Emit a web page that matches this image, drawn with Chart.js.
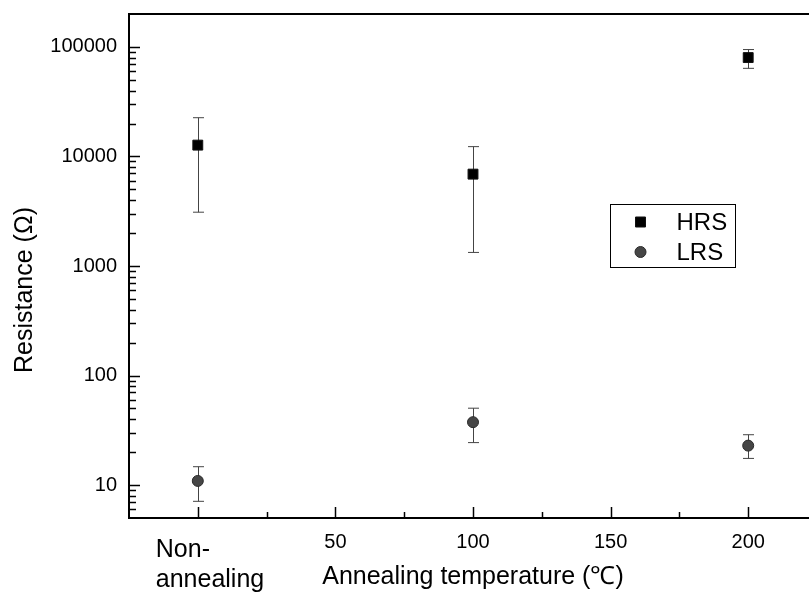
<!DOCTYPE html>
<html>
<head>
<meta charset="utf-8">
<script src="https://cdn.jsdelivr.net/npm/chart.js@4.4.1/dist/chart.umd.min.js"></script>
<style>
  html, body { margin: 0; padding: 0; background: #fff; overflow: hidden; }
  #wrap { width: 830px; height: 594px; }
</style>
</head>
<body>
<div id="wrap"><canvas id="chart"></canvas></div>
<script>
// annealing temperature, 0 = non-annealed sample
const temps = [0, 100, 200];

// high resistance state (ohm) with error range
const hrsValues = [12700, 6900, 80000];
const hrsUpper = [22600, 12300, 94700];
const hrsLower = [3100, 1330, 63800];

// low resistance state (ohm) with error range
const lrsValues = [10.9, 37.5, 22.9];
const lrsUpper = [14.7, 50.3, 28.8];
const lrsLower = [7.1, 24.4, 17.5];

const xTickLabels = { 50: '50', 100: '100', 150: '150', 200: '200' };
const zeroLabel = ['Non-', 'annealing'];
const yTickLabels = [10, 100, 1000, 10000, 100000];
const yTitle = 'Resistance (Ω)';

const FONT = "'Liberation Sans', Arial, sans-serif";

// 1..9 per decade between the axis limits
const yTicks = [];
for (let e = 0; e <= 5; e++) {
  for (let k = 1; k <= 9; k++) {
    const v = k * Math.pow(10, e);
    if (v >= 5 && v <= 200000) yTicks.push({ value: v, major: k === 1 });
  }
}

const errors = [
  { upper: hrsUpper, lower: hrsLower },
  { upper: lrsUpper, lower: lrsLower }
];

// error bars go under the markers
const errorBars = {
  id: 'errorBars',
  beforeDatasetsDraw(chart) {
    const ctx = chart.ctx;
    const xs = chart.scales.x, ys = chart.scales.y;
    ctx.save();
    ctx.strokeStyle = '#444';
    ctx.lineWidth = 1;
    errors.forEach((err) => {
      temps.forEach((t, i) => {
        const px = Math.round(xs.getPixelForValue(t)) + 0.5;
        const top = ys.getPixelForValue(err.upper[i]);
        const bot = ys.getPixelForValue(err.lower[i]);
        ctx.beginPath();
        ctx.moveTo(px, top);
        ctx.lineTo(px, bot);
        ctx.moveTo(px - 5.5, top);
        ctx.lineTo(px + 5.5, top);
        ctx.moveTo(px - 5.5, bot);
        ctx.lineTo(px + 5.5, bot);
        ctx.stroke();
      });
    });
    ctx.restore();
  }
};

// frame, inward tick marks, y title, the two-line zero label and the legend box
const frame = {
  id: 'frame',
  afterDraw(chart) {
    const ctx = chart.ctx;
    const a = chart.chartArea;
    const xs = chart.scales.x, ys = chart.scales.y;
    ctx.save();
    ctx.strokeStyle = '#000';
    ctx.lineWidth = 2;
    ctx.beginPath();
    ctx.moveTo(a.left, a.top);
    ctx.lineTo(a.right, a.top);
    ctx.lineTo(a.right, a.bottom);
    ctx.lineTo(a.left, a.bottom);
    ctx.closePath();
    ctx.stroke();

    ctx.lineWidth = 1.5;
    yTicks.forEach((t) => {
      if (t.value <= ys.min || t.value >= ys.max) return;
      const py = Math.round(ys.getPixelForValue(t.value)) + 0.5;
      const len = t.major ? 11 : 7;
      ctx.beginPath();
      ctx.moveTo(a.left, py);
      ctx.lineTo(a.left + len, py);
      ctx.stroke();
    });
    xs.ticks.forEach((t) => {
      if (t.value <= xs.min || t.value >= xs.max) return;
      const px = Math.round(xs.getPixelForValue(t.value)) + 0.5;
      const len = t.value % 50 === 0 ? 11 : 6;
      ctx.beginPath();
      ctx.moveTo(px, a.bottom);
      ctx.lineTo(px, a.bottom - len);
      ctx.stroke();
    });

    ctx.fillStyle = '#000';

    // y axis title
    ctx.save();
    ctx.translate(32, 373);
    ctx.rotate(-Math.PI / 2);
    ctx.font = '25px ' + FONT;
    ctx.textAlign = 'left';
    ctx.textBaseline = 'alphabetic';
    ctx.fillText(yTitle, 0, 0);
    ctx.restore();

    // "Non-annealing" under the x = 0 tick
    ctx.font = '25px ' + FONT;
    ctx.textAlign = 'left';
    ctx.textBaseline = 'alphabetic';
    const zx = xs.getPixelForValue(0) - 42;
    ctx.fillText(zeroLabel[0], zx, 557);
    ctx.fillText(zeroLabel[1], zx, 587);

    // legend
    const lx = 610.5, ly = 204.5, lw = 125, lh = 63;
    ctx.lineWidth = 1;
    ctx.strokeStyle = '#000';
    ctx.strokeRect(lx, ly, lw, lh);
    ctx.font = '24px ' + FONT;
    ctx.textBaseline = 'middle';
    chart.data.datasets.forEach((ds, i) => {
      const cy = ly + 17.5 + i * 30;
      const cx = lx + 30;
      ctx.fillStyle = ds.backgroundColor;
      ctx.strokeStyle = ds.borderColor;
      ctx.beginPath();
      if (ds.pointStyle === 'rect') {
        ctx.rect(cx - 5, cy - 5, 10, 10);
      } else {
        ctx.arc(cx, cy, 5.5, 0, Math.PI * 2);
      }
      ctx.fill();
      ctx.stroke();
      ctx.fillStyle = '#000';
      ctx.fillText(ds.label, lx + 66, cy + 1);
    });
    ctx.restore();
  }
};

new Chart(document.getElementById('chart'), {
  type: 'scatter',
  data: {
    datasets: [
      {
        label: 'HRS',
        data: temps.map((t, i) => ({ x: t, y: hrsValues[i] })),
        pointStyle: 'rect',
        pointRadius: 7,
        backgroundColor: '#000',
        borderColor: '#111',
        borderWidth: 1
      },
      {
        label: 'LRS',
        data: temps.map((t, i) => ({ x: t, y: lrsValues[i] })),
        pointStyle: 'circle',
        pointRadius: 5.5,
        backgroundColor: '#464646',
        borderColor: '#2a2a2a',
        borderWidth: 1
      }
    ]
  },
  options: {
    responsive: true,
    maintainAspectRatio: false,
    animation: false,
    layout: { padding: { top: 14, right: 13, bottom: 0, left: 0 } },
    plugins: {
      legend: { display: false },
      tooltip: { enabled: false }
    },
    scales: {
      x: {
        type: 'linear',
        min: -25,
        max: 225,
        grid: { display: false, drawTicks: false },
        border: { display: false },
        ticks: {
          stepSize: 25,
          autoSkip: false,
          maxRotation: 0,
          padding: 12,
          color: '#000',
          font: { family: FONT, size: 20 },
          callback: (v) => xTickLabels[v] || ''
        },
        title: {
          display: true,
          text: 'Annealing temperature (℃)',
          color: '#000',
          font: { family: FONT, size: 25 },
          padding: { top: 0, bottom: 2 }
        },
        afterFit: (s) => { s.height = 76; s.paddingLeft = 0; s.paddingRight = 0; }
      },
      y: {
        type: 'logarithmic',
        min: 5,
        max: 200000,
        grid: { display: false, drawTicks: false },
        border: { display: false },
        afterBuildTicks: (s) => { s.ticks = yTicks.map((t) => ({ value: t.value, major: t.major })); },
        ticks: {
          autoSkip: false,
          padding: 12,
          color: '#000',
          font: { family: FONT, size: 20 },
          callback: (v) => yTickLabels.includes(v) ? String(v) : ''
        },
        afterFit: (s) => { s.width = 129; s.paddingTop = 0; s.paddingBottom = 0; }
      }
    }
  },
  plugins: [errorBars, frame]
});
</script>
</body>
</html>
